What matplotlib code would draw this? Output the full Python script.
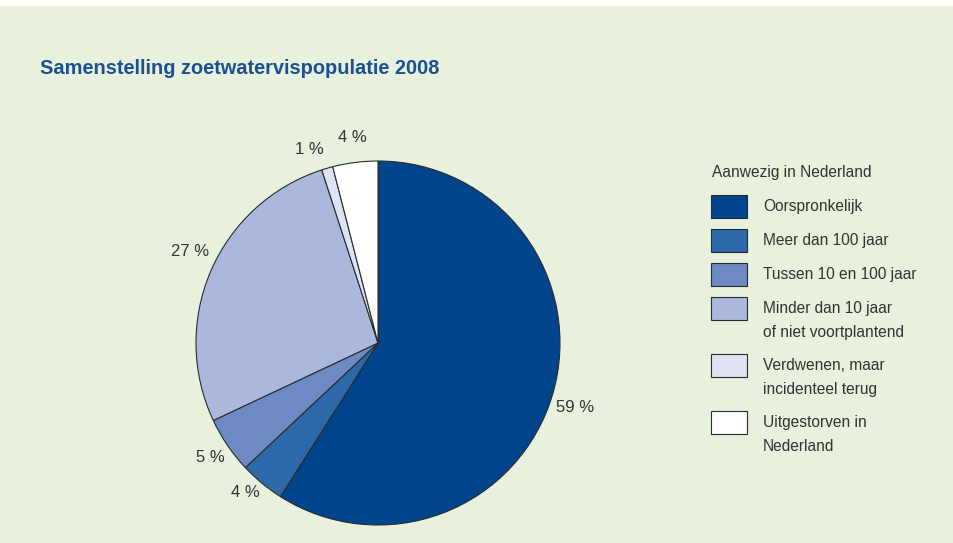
import matplotlib
matplotlib.use("Agg")
import numpy as np
import matplotlib.pyplot as plt
from matplotlib.patches import Rectangle

plt.rcParams['font.family'] = ['Liberation Sans', 'DejaVu Sans']

title = "Samenstelling zoetwatervispopulatie 2008"
legend_title = "Aanwezig in Nederland"
categories = ["Oorspronkelijk", "Meer dan 100 jaar", "Tussen 10 en 100 jaar",
              "Minder dan 10 jaar\nof niet voortplantend",
              "Verdwenen, maar\nincidenteel terug",
              "Uitgestorven in\nNederland"]
values = [59, 4, 5, 27, 1, 4]
pct_labels = ["59 %", "4 %", "5 %", "27 %", "1 %", "4 %"]
colors = ["#00448c", "#2d68a8", "#6e8ac4", "#abb8de", "#dee4f3", "#ffffff"]

# label placement (layout): radial distance and angular offset per label
label_dist = [1.14, 1.10, 1.115, 1.15, 1.13, 1.14]
label_dang = [-2.0, -2.0, 0.0, -2.4, 3.2, 0.0]

W, H = 954, 543
BG = "#e8f1dd"
fig = plt.figure(figsize=(W / 100, H / 100), dpi=100, facecolor=BG)
fig.patches.append(Rectangle((0, 1 - 6 / H), 1, 6 / H, transform=fig.transFigure,
                             facecolor="white", edgecolor="none", zorder=0))

def fx(px):
    return px / W

def fy(py):
    return 1 - py / H

fig.text(fx(40), fy(68), title, fontsize=14.4, fontweight="bold", color="#1d4f93",
         ha="left", va="center")

cx, cy, R = 378, 343, 182
ax = fig.add_axes([fx(cx - R), fy(cy + R), 2 * R / W, 2 * R / H])
ax.set_facecolor("none")
wedges, texts = ax.pie(values, colors=colors, startangle=90, counterclock=False,
                       labels=pct_labels, labeldistance=1.14,
                       wedgeprops=dict(edgecolor="#2b2b2b", linewidth=0.8),
                       textprops=dict(fontsize=12, color="#333333"))
for w, t, d, da in zip(wedges, texts, label_dist, label_dang):
    mid = np.deg2rad((w.theta1 + w.theta2) / 2 + da)
    t.set_position((d * np.cos(mid), d * np.sin(mid)))
    t.set_ha("center")
    t.set_va("center")
ax.set_xlim(-1, 1)
ax.set_ylim(-1, 1)
ax.set_aspect("equal")
ax.axis("off")

# legend
fig.text(fx(712), fy(173), legend_title, fontsize=11.2, color="#333333", ha="left", va="center")
top = 195
for cat, col in zip(categories, colors):
    lines = cat.split("\n")
    fig.patches.append(Rectangle((fx(711), fy(top + 23)), 36 / W, 23 / H,
                                 transform=fig.transFigure, facecolor=col,
                                 edgecolor="#2b2b2b", linewidth=0.8))
    for k, line in enumerate(lines):
        fig.text(fx(763), fy(top + 11.5 + 24 * k), line, fontsize=11.2, color="#333333",
                 ha="left", va="center")
    top += 34 + 23 * (len(lines) - 1)

fig.savefig("out.png", dpi=100, facecolor=BG)
